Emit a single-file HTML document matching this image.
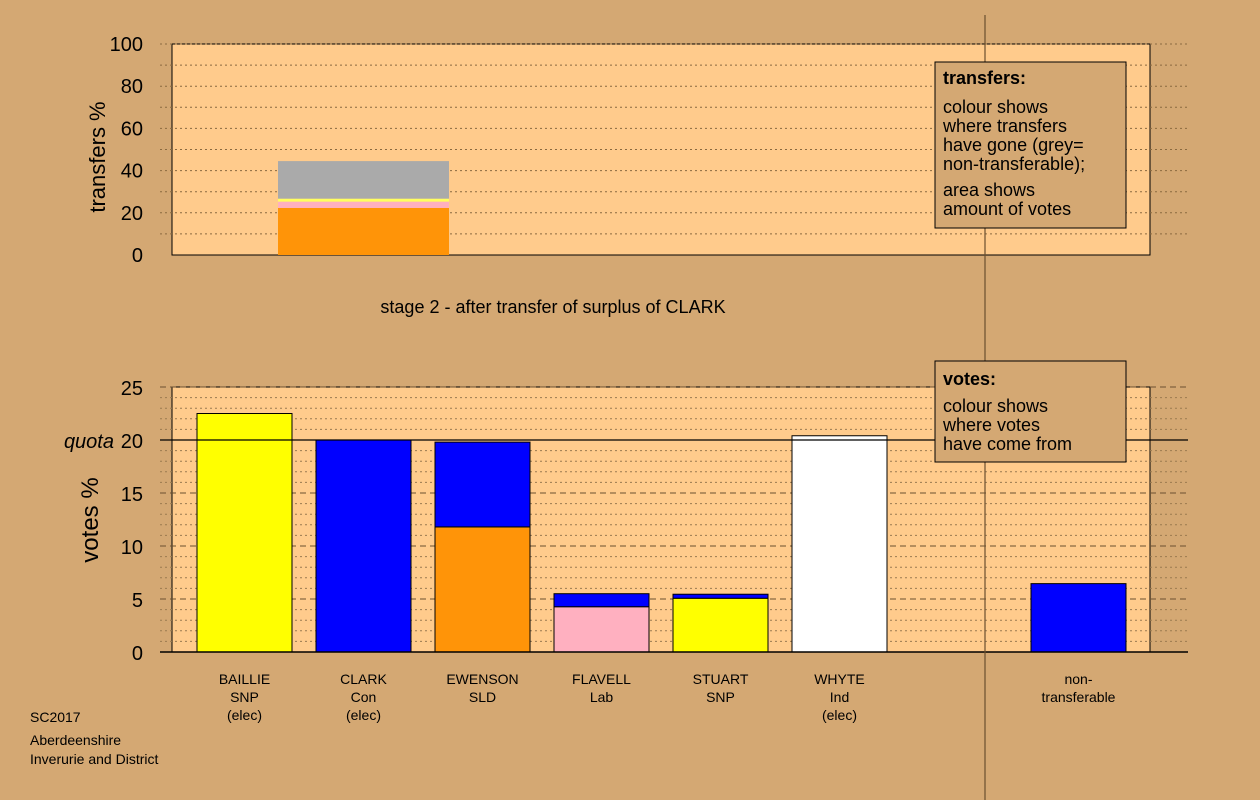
<!DOCTYPE html>
<html><head><meta charset="utf-8"><style>
html,body{margin:0;padding:0;background:#D4A873;}
svg{display:block;font-family:"Liberation Sans",sans-serif;}
</style></head><body>
<svg id="chart" width="1260" height="800">
<rect x="0" y="0" width="1260" height="800" fill="#D4A873"/>
<rect x="172" y="44" width="978" height="211" fill="#FFCB8C" stroke="#000" stroke-width="1"/>
<rect x="172" y="387" width="978" height="265" fill="#FFCB8C" stroke="#000" stroke-width="1"/>
<g id="grid"></g>
<g id="bars"></g>
<g id="axes"></g>
<line x1="985" y1="15" x2="985" y2="800" stroke="#6b5030" stroke-width="1.2"/>
<text x="105" y="157" font-size="22" transform="rotate(-90 105 157)" text-anchor="middle">transfers %</text>
<text x="98" y="520" font-size="24" transform="rotate(-90 98 520)" text-anchor="middle">votes %</text>
<text x="553" y="313" font-size="18" text-anchor="middle">stage 2 - after transfer of surplus of CLARK</text>
<g>
<rect x="935" y="62" width="191" height="166" fill="#D4A873" stroke="#000"/>
<text x="943" y="84" font-size="18" font-weight="bold">transfers:</text>
<text font-size="18"><tspan x="943" y="113">colour shows</tspan><tspan x="943" y="132">where transfers</tspan><tspan x="943" y="151">have gone (grey=</tspan><tspan x="943" y="170">non-transferable);</tspan><tspan x="943" y="196">area shows</tspan><tspan x="943" y="215">amount of votes</tspan></text>
</g>
<g>
<rect x="935" y="361" width="191" height="101" fill="#D4A873" stroke="#000"/>
<text x="943" y="385" font-size="18" font-weight="bold">votes:</text>
<text font-size="18"><tspan x="943" y="412">colour shows</tspan><tspan x="943" y="431">where votes</tspan><tspan x="943" y="450">have come from</tspan></text>
</g>
<text font-size="14"><tspan x="30" y="722">SC2017</tspan><tspan x="30" y="745">Aberdeenshire</tspan><tspan x="30" y="764">Inverurie and District</tspan></text>
</svg>
<script>
const transferSegments = [22.3, 3.0, 1.4, 17.8];
const transferColors = ["#FF9408", "#FFB0C0", "#FFFF60", "#AAAAAA"];
const topTicks = [0, 20, 40, 60, 80, 100];
const candidates = ["BAILLIE|SNP|(elec)", "CLARK|Con|(elec)", "EWENSON|SLD", "FLAVELL|Lab", "STUART|SNP", "WHYTE|Ind|(elec)", "non-|transferable"];
const baseVotes = [22.5, 20.0, 11.8, 4.27, 5.07, 20.4, 6.45];
const baseColors = ["#FFFF00", "#0000FF", "#FF9408", "#FFB0C0", "#FFFF00", "#FFFFFF", "#0000FF"];
const transferVotes = [0, 0, 8.0, 1.23, 0.38, 0, 0];
const bottomTicks = [0, 5, 10, 15, 20, 25];
const quota = 20;

const NS = "http://www.w3.org/2000/svg";
function mk(tag, attrs, parent) { const e = document.createElementNS(NS, tag); for (const k in attrs) e.setAttribute(k, attrs[k]); parent.appendChild(e); return e; }
const yTop = v => 255 - v * 211 / 100;
const yBot = v => 652 - v * 265 / 25;
const slotX = i => i < 6 ? 197 + i * 119 : 1031;
const barW = 95;
const grid = document.getElementById("grid"), bars = document.getElementById("bars"), axes = document.getElementById("axes");

// top grid
for (let v = 10; v <= 100; v += 10) {
  const l = mk("line", {x1: 160, x2: 1188, y1: yTop(v), y2: yTop(v), stroke: "#8a6a40", "stroke-dasharray": "2,3", "stroke-width": 1}, grid);
  
  
}
for (let v = 1; v <= 25; v++) {
  if (v === quota) continue;
  const major = v % 5 === 0;
  const l = mk("line", {x1: 160, x2: 1188, y1: yBot(v), y2: yBot(v), stroke: major ? "#6b5030" : "#9a7a50", "stroke-dasharray": major ? "6,4" : "2,3", "stroke-width": 1}, grid);
  
  
}
// top bar
let acc = 0;
transferSegments.forEach((v, i) => {
  const r = mk("rect", {x: 278, width: 171, y: yTop(acc + v), height: yTop(acc) - yTop(acc + v), fill: transferColors[i]}, bars);
  
  
  acc += v;
});
// bottom bars
candidates.forEach((c, i) => {
  const x = slotX(i);
  const b = mk("rect", {x: x, width: barW, y: yBot(baseVotes[i]), height: yBot(0) - yBot(baseVotes[i]), fill: baseColors[i], stroke: "#000", "stroke-width": 1}, bars);
  
  
  if (transferVotes[i] > 0) {
    const t = mk("rect", {x: x, width: barW, y: yBot(baseVotes[i] + transferVotes[i]), height: yBot(baseVotes[i]) - yBot(baseVotes[i] + transferVotes[i]), fill: "#0000FF", stroke: "#000", "stroke-width": 1}, bars);
    
    
  }
  const lbl = mk("text", {"font-size": 14, "text-anchor": "middle"}, axes);
  
  
  c.split("|").forEach((s, k) => { const ts = mk("tspan", {x: x + barW / 2, y: 684 + k * 18}, lbl); ts.textContent = s; });
});
// axes
let a1 = mk("line", {x1: 160, x2: 1188, y1: 652, y2: 652, stroke: "#000", "stroke-width": 1.5}, axes);


let q = mk("line", {x1: 160, x2: 1188, y1: yBot(quota), y2: yBot(quota), stroke: "#000", "stroke-width": 1.3}, axes);


topTicks.forEach(v => {
  const t = mk("text", {x: 143, y: yTop(v) + 7, "font-size": 20, "text-anchor": "end"}, axes);
  
  
  t.textContent = v;
});
bottomTicks.forEach(v => {
  const t = mk("text", {x: 143, y: yBot(v) + 8, "font-size": 20, "text-anchor": "end"}, axes);
  
  
  t.textContent = v;
});
const ql = mk("text", {x: 114, y: yBot(quota) + 8, "font-size": 20, "text-anchor": "end", "font-style": "italic"}, axes);


ql.textContent = "quota";
</script>
</body></html>
